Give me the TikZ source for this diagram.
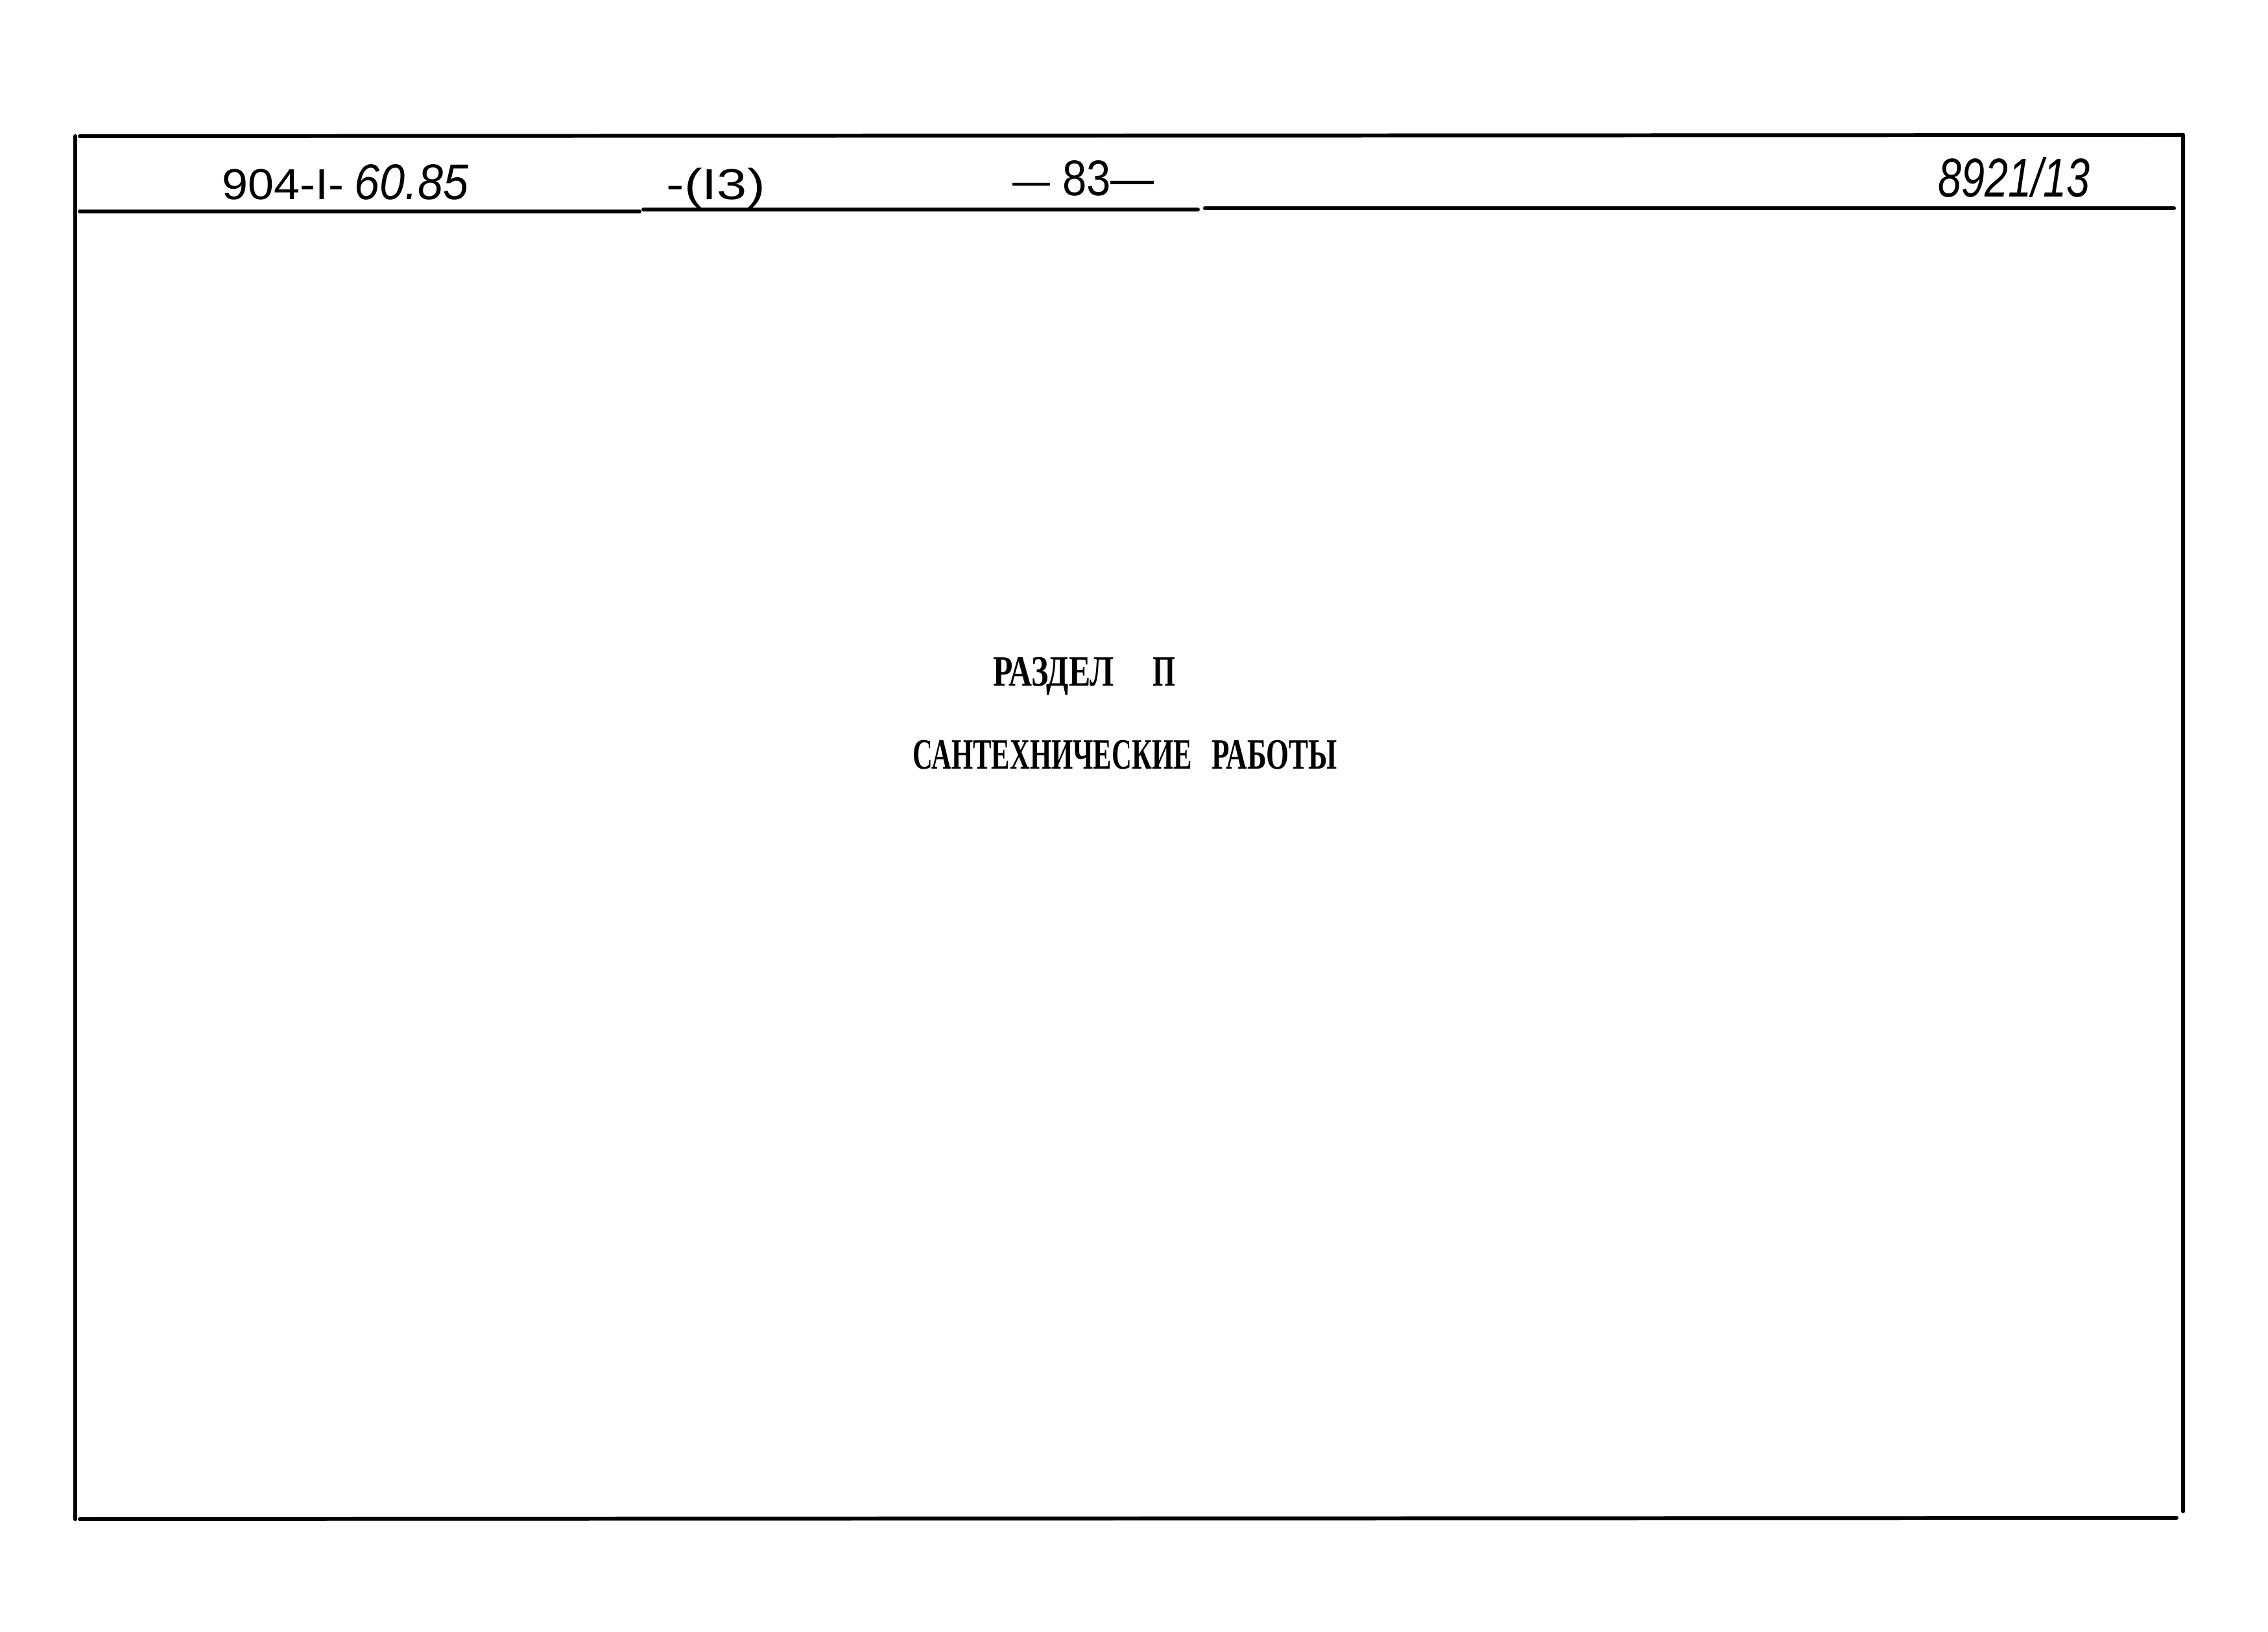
\documentclass[tikz,border=0pt]{standalone}
\usepackage{fontspec}
\usepackage{graphicx}
\setmainfont{Liberation Sans}
\newfontfamily\typefont{Liberation Serif}
\newcommand{\fitw}[2]{\resizebox{#1}{\height}{#2}}
\tikzset{
  frameline/.style={line width=1.7pt, line cap=round},
  hdr/.style={inner sep=0pt, anchor=base west, font=\fontsize{19}{23}\selectfont},
  hand/.style={inner sep=0pt, anchor=base west, font=\itshape\fontsize{22}{26}\selectfont},
  title/.style={inner sep=0pt, anchor=base west, font=\typefont\bfseries\fontsize{19}{23}\selectfont}
}
\begin{document}
\begin{tikzpicture}
\useasboundingbox (0,0) rectangle (34.97,25.16);
% frame corners
\coordinate (tl) at (1.16,23.06);
\coordinate (tr) at (33.66,23.08);
\coordinate (bl) at (1.16,1.74);
\coordinate (br) at (33.66,1.86);
\coordinate (bt1) at (1.23,1.74);
\coordinate (bt2) at (33.56,1.76);
\coordinate (tp1) at (1.23,23.06);
% header rule segments
\coordinate (h1a) at (1.23,21.90);
\coordinate (h1b) at (9.86,21.90);
\coordinate (h2a) at (9.92,21.93);
\coordinate (h2b) at (18.47,21.93);
\coordinate (h3a) at (18.58,21.95);
\coordinate (h3b) at (33.52,21.95);

\draw[frameline] (tp1) -- (tr);
\draw[frameline] (tl) -- (bl);
\draw[frameline] (tr) -- (br);
\draw[frameline] (bt1) -- (bt2);
\draw[frameline] (h1a) -- (h1b);
\draw[frameline] (h2a) -- (h2b);
\draw[frameline] (h3a) -- (h3b);

% header texts
\node[hdr] (code) at (3.42,22.08) {\fitw{1.88cm}{904-I-}};
\node[hand] (codehand) at (5.46,22.08) {\fitw{1.76cm}{60.85}};
\node[hdr] (sheet) at (10.27,22.08) {\fitw{1.52cm}{-(I3)}};
\node[hdr] (page) at (15.61,22.14) {\fitw{2.18cm}{—\fontsize{22}{26}\selectfont\ 83—}};
\node[hand] (inv) at (29.88,22.12) {\fitw{2.34cm}{\fontsize{24}{28}\selectfont 8921/13}};

% titles
\node[title] (sect) at (15.31,14.58) {\fitw{1.86cm}{РАЗДЕЛ}};
\node[title] (sectnum) at (17.77,14.58) {\fitw{0.35cm}{П}};
\node[title] (work) at (14.07,13.30) {\fitw{4.30cm}{САНТЕХНИЧЕСКИЕ}};
\node[title] (work2) at (18.68,13.30) {\fitw{1.93cm}{РАБОТЫ}};
\end{tikzpicture}
\end{document}
